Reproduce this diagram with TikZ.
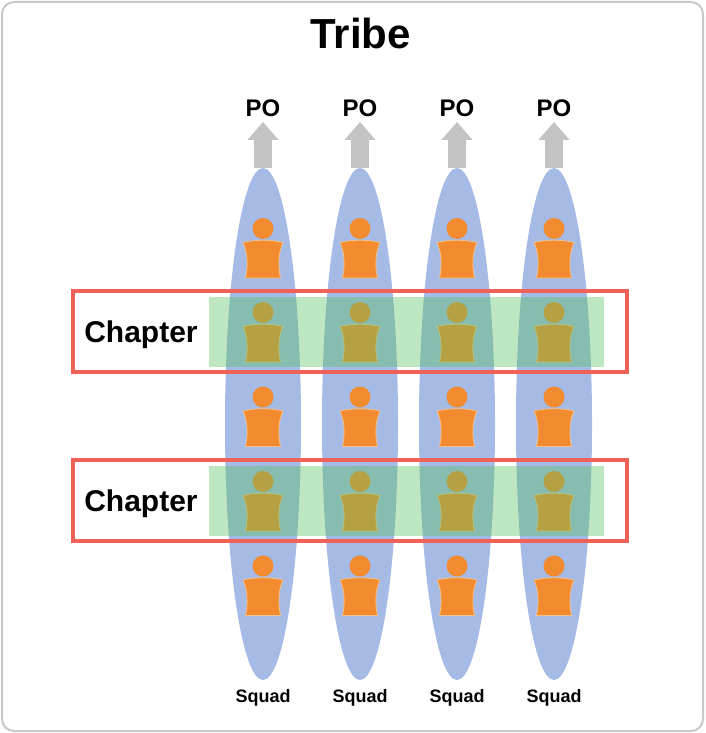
\documentclass[tikz,border=0pt]{standalone}
\usepackage{fontspec}
\setmainfont{Liberation Sans}
\usepackage{tikz}
\usetikzlibrary{shapes.geometric}
\usetikzlibrary{arrows.meta}
\definecolor{squadblue}{HTML}{A5BAE4}
\definecolor{memberorange}{HTML}{F28B30}
\definecolor{memberedge}{HTML}{F6C28C}
\definecolor{chaptergreen}{HTML}{5AC364}
\definecolor{chapterred}{HTML}{F06157}
\definecolor{pogrey}{HTML}{C3C3C3}
\definecolor{framegrey}{HTML}{C8C8C8}
% one member of a squad, head centre at (#1,#2)
\newcommand{\member}[2]{%
	\fill[memberorange] (#1,#2) circle (10.5);
	\filldraw[fill=memberorange, draw=memberedge, line width=0.8pt]
	(#1-20,#2+14) .. controls (#1-8,#2+11) and (#1+8,#2+11) .. (#1+20,#2+14)
	.. controls (#1+15,#2+25) and (#1+15,#2+38) .. (#1+17.5,#2+49.5)
	-- (#1-17.5,#2+49.5)
	.. controls (#1-15,#2+38) and (#1-15,#2+25) .. (#1-20,#2+14) -- cycle;
}

\begin{document}
\begin{tikzpicture}[x=1pt, y=-1pt, >=stealth,
	squad/.style={ellipse, fill=squadblue, minimum width=76pt, minimum height=512pt, inner sep=0pt},
	squadlabel/.style={font=\bfseries\fontsize{18}{20}\selectfont},
	polabel/.style={font=\bfseries\fontsize{24}{26}\selectfont, inner sep=5pt},
	chapterbox/.style={draw=chapterred, line width=4pt},
	poarrow/.style={draw=pogrey, line width=18pt, -{Triangle[width=30pt,length=18pt]}}]
			\useasboundingbox (0,0) rectangle (705,733);
			% frame
			\draw[framegrey, line width=2pt, rounded corners=12pt] (2,2) rectangle (703,731);
			\node[font=\bfseries\fontsize{42}{46}\selectfont, anchor=base] (tribe) at (360.5,49) {Tribe};
			% squads
			\foreach \i/\x in {1/263,2/360,3/457,4/554} {
				\node[squad] (sq\i) at (\x,424) {};
				\node[polabel, anchor=base] (po\i) at (\x,116.5) {PO};
				\draw[poarrow] (sq\i.north) -- (po\i.south);
				\node[squadlabel, anchor=base] (name\i) at (\x,702) {Squad};
				\foreach \y in {228.5,312.5,397,481.5,566} {
					\member{\x}{\y}
				}
			}
			% chapters
			\foreach \j/\y in {1/312.5,2/481.5} {
				\fill[chaptergreen, fill opacity=0.4] (209,\y-15.5) rectangle (604,\y+54.5);
				\draw[chapterbox] (73,\y-21.5) rectangle (627,\y+59.5);
				\node[font=\bfseries\fontsize{30}{32}\selectfont, anchor=base] (ch\j) at (141,\y+30.2) {Chapter};
			}
		\end{tikzpicture}
\end{document}
